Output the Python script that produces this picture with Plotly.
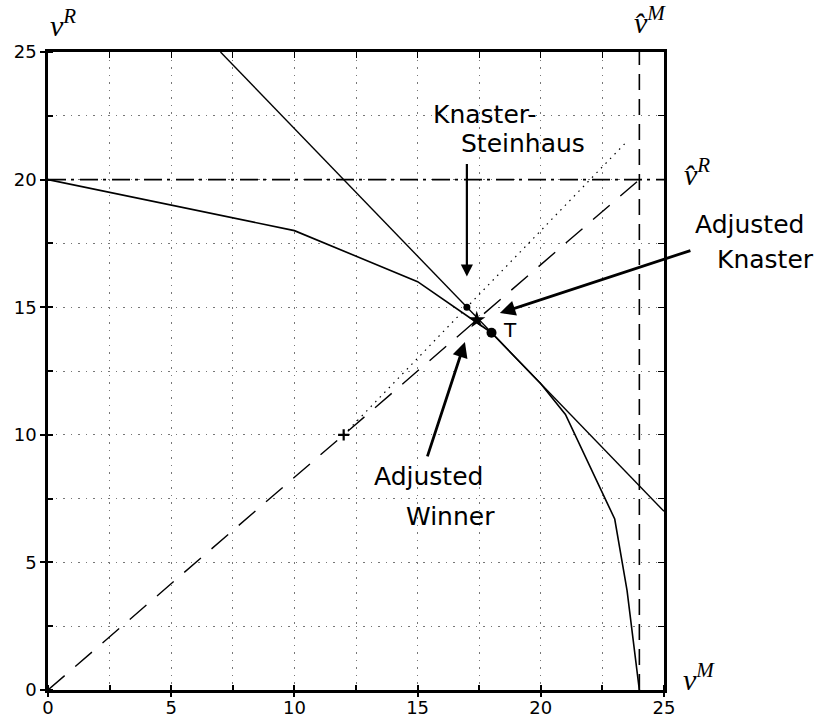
import plotly.graph_objects as go

# ---------------- data ----------------
frontier_x = [0, 5, 10, 15, 18, 20, 21, 23, 23.5, 24]
frontier_y = [20, 19, 18, 16, 14, 12, 10.8, 6.7, 3.9, 0]

ks_line_x = [7, 25]
ks_line_y = [25, 7]

diag_dash_x = [0, 24]
diag_dash_y = [0, 20]

diag_dot_x = [12, 23.5]
diag_dot_y = [10, 21.5]

vhat_R = 20          # horizontal dash-dot line
vhat_M = 24          # vertical dashed line
axis_max = 25

disagreement = (12, 10)
ks_point = (17, 15)
adj_point = (17.4, 14.5)
t_point = (18, 14)

major_ticks = [0, 5, 10, 15, 20, 25]
minor_ticks = [0, 2.5, 5, 7.5, 10, 12.5, 15, 17.5, 20, 22.5, 25]

# ---------------- figure ----------------
fig = go.Figure()
black = "black"

fig.add_trace(go.Scatter(x=frontier_x, y=frontier_y, mode="lines",
                         line=dict(color=black, width=1.6), hoverinfo="skip"))
fig.add_trace(go.Scatter(x=ks_line_x, y=ks_line_y, mode="lines",
                         line=dict(color=black, width=1.4), hoverinfo="skip"))
fig.add_trace(go.Scatter(x=diag_dash_x, y=diag_dash_y, mode="lines",
                         line=dict(color=black, width=1.4, dash="22px,14px"), hoverinfo="skip"))
fig.add_trace(go.Scatter(x=diag_dot_x, y=diag_dot_y, mode="lines",
                         line=dict(color=black, width=1.2, dash="1.5px,5px"), hoverinfo="skip"))
fig.add_trace(go.Scatter(x=[0, axis_max], y=[vhat_R, vhat_R], mode="lines",
                         line=dict(color=black, width=1.6, dash="18px,5px,3px,6px"), hoverinfo="skip"))
fig.add_trace(go.Scatter(x=[vhat_M, vhat_M], y=[0, axis_max], mode="lines",
                         line=dict(color=black, width=1.6, dash="16px,9px"), hoverinfo="skip"))

# points
fig.add_trace(go.Scatter(x=[disagreement[0]], y=[disagreement[1]], mode="markers",
                         marker=dict(symbol="cross-thin", size=8, line=dict(color=black, width=2.2)),
                         hoverinfo="skip"))
fig.add_trace(go.Scatter(x=[ks_point[0]], y=[ks_point[1]], mode="markers",
                         marker=dict(symbol="circle", size=7, color=black), hoverinfo="skip"))
fig.add_trace(go.Scatter(x=[adj_point[0]], y=[adj_point[1]], mode="markers",
                         marker=dict(symbol="star", size=13, color=black), hoverinfo="skip"))
fig.add_trace(go.Scatter(x=[t_point[0]], y=[t_point[1]], mode="markers",
                         marker=dict(symbol="circle", size=10, color=black), hoverinfo="skip"))

# invisible trace for mirrored axes
fig.add_trace(go.Scatter(x=[0], y=[0], xaxis="x2", yaxis="y2", mode="markers",
                         marker=dict(opacity=0), hoverinfo="skip"))

grid = dict(showgrid=True, gridcolor="#777777", gridwidth=1, griddash="1.5px,6px")

fig.update_layout(
    width=818, height=719,
    margin=dict(l=48, r=154, t=52, b=29, autoexpand=False),
    plot_bgcolor="white", paper_bgcolor="white",
    showlegend=False,
    font=dict(family="DejaVu Sans", color=black),
    xaxis=dict(range=[0, axis_max], tickvals=major_ticks, ticks="outside", ticklen=4,
               tickwidth=1.5, tickcolor=black, showline=True, linewidth=2.5, linecolor=black,
               tickfont=dict(family="DejaVu Sans", size=18, color=black), zeroline=False,
               automargin=False, ticklabelstandoff=-4,
               minor=dict(tickvals=minor_ticks, ticks="inside", ticklen=5, tickcolor=black,
                          **grid),
               **grid),
    yaxis=dict(range=[0, axis_max], tickvals=major_ticks, ticks="outside", ticklen=5,
               tickwidth=1.5, tickcolor=black, showline=True, linewidth=2.5, linecolor=black,
               tickfont=dict(family="DejaVu Sans", size=18, color=black), zeroline=False,
               automargin=False,
               minor=dict(tickvals=minor_ticks, ticks="inside", ticklen=5, tickcolor=black,
                          **grid),
               **grid),
    xaxis2=dict(range=[0, axis_max], overlaying="x", side="top", anchor="y",
                tickvals=minor_ticks, ticks="inside", ticklen=6, tickcolor=black,
                showticklabels=False, showline=True, linewidth=2.5, linecolor=black,
                showgrid=False, zeroline=False),
    yaxis2=dict(range=[0, axis_max], overlaying="y", side="right", anchor="x",
                tickvals=minor_ticks, ticks="inside", ticklen=6, tickcolor=black,
                showticklabels=False, showline=True, linewidth=2.5, linecolor=black,
                showgrid=False, zeroline=False),
)

math_font = dict(family="Liberation Serif", size=30, color=black)
text_font = dict(family="DejaVu Sans", size=25, color=black)

def label(x, y, text, font, ref="x"):
    fig.add_annotation(x=x, y=y, xref="x" if ref == "x" else "paper",
                       yref="y" if ref == "x" else "paper", text=text, showarrow=False,
                       font=font, xanchor="left", yanchor="middle")

# axis math labels (outside the plot area: paper coordinates)
label(0.0, 1.045, "<i>v</i><sup><i>R</i></sup>", math_font, ref="paper")
label(0.948, 1.05, "<i>v\u0302</i><sup><i>M</i></sup>", math_font, ref="paper")
label(1.03, 0.812, "<i>v\u0302</i><sup><i>R</i></sup>", math_font, ref="paper")
label(1.028, 0.02, "<i>v</i><sup><i>M</i></sup>", math_font, ref="paper")

# text labels
label(15.55, 22.55, "Knaster-", text_font)
label(16.7, 21.4, "Steinhaus", text_font)
label(1.047, 0.730, "Adjusted", text_font, ref="paper")
label(1.083, 0.6755, "Knaster", text_font, ref="paper")
label(13.15, 8.35, "Adjusted", text_font)
label(14.45, 6.8, "Winner", text_font)
label(18.4, 14.1, "T", dict(family="DejaVu Sans", size=20, color=black))

# arrows
def arrow(x, y, ax, ay, width=2.8):
    fig.add_annotation(x=x, y=y, xref="x", yref="y", ax=ax, ay=ay, axref="pixel", ayref="pixel",
                       text="", showarrow=True, arrowhead=2, arrowsize=1.1,
                       arrowwidth=width, arrowcolor=black)

arrow(17.0, 16.2, 0, -114, width=2.2)
arrow(18.34, 14.77, 192, -63)
arrow(16.92, 13.64, -38, 116)

fig.write_html("out.html")
